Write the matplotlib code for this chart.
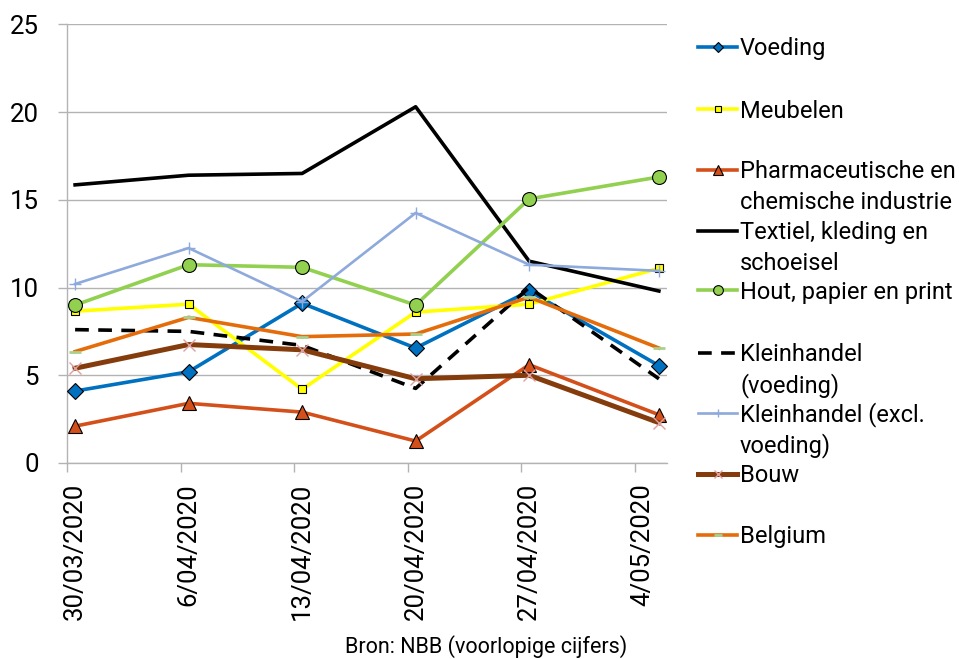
import matplotlib.pyplot as plt
from matplotlib.lines import Line2D
from matplotlib.transforms import ScaledTranslation
from matplotlib import rcParams

rcParams['font.family'] = ['Roboto', 'DejaVu Sans']

# meetmomenten (dagen na 30/03/2020) en labels
meetdagen = [0.5, 7.5, 14.5, 21.5, 28.5, 36.5]
tick_dagen = [0, 7, 14, 21, 28, 35]
tick_labels = ['30/03/2020', '6/04/2020', '13/04/2020', '20/04/2020', '27/04/2020', '4/05/2020']

voeding = [4.1, 5.2, 9.1, 6.55, 9.8, 5.55]
meubelen = [8.65, 9.05, 4.2, 8.6, 9.05, 11.1]
pharma = [2.1, 3.4, 2.9, 1.25, 5.6, 2.75]
textiel = [15.85, 16.4, 16.5, 20.3, 11.5, 9.8]
hout = [9.0, 11.3, 11.15, 9.0, 15.05, 16.3]
klein_voeding = [7.6, 7.5, 6.7, 4.25, 10.0, 4.8]
klein_excl = [10.2, 12.25, 9.2, 14.25, 11.3, 10.95]
bouw = [5.4, 6.75, 6.45, 4.8, 5.0, 2.3]
belgium = [6.35, 8.3, 7.2, 7.35, 9.45, 6.55]

series = [
    ('Voeding', voeding, dict(color='#0070C0', lw=2.6, marker='D', ms=8, mfc='#0070C0', mec='black', mew=0.8)),
    ('Meubelen', meubelen, dict(color='#FFFF00', lw=2.6, marker='s', ms=5.5, mfc='#FFFF00', mec='black', mew=0.8)),
    ('Pharmaceutische en\nchemische industrie', pharma, dict(color='#D4501A', lw=2.6, marker='^', ms=10, mfc='#D4501A', mec='black', mew=0.8)),
    ('Textiel, kleding en\nschoeisel', textiel, dict(color='black', lw=2.6)),
    ('Hout, papier en print', hout, dict(color='#92D050', lw=2.6, marker='o', ms=10, mfc='#92D050', mec='black', mew=0.8)),
    ('Kleinhandel\n(voeding)', klein_voeding, dict(color='black', lw=2.6, dashes=(3.8, 2.6))),
    ('Kleinhandel (excl.\nvoeding)', klein_excl, dict(color='#8EA9DB', lw=1.9, marker='+', ms=9, mec='#8EA9DB', mew=1)),
    ('Bouw', bouw, dict(color='#843C0C', lw=3.6, marker='x', ms=9, mec='#E0A0A0', mew=1)),
    ('Belgium', belgium, dict(color='#E46C0A', lw=2.6, marker='_', ms=9, mec='#A9D18E', mew=2)),
]

W, H = 959, 659
fig = plt.figure(figsize=(W / 100, H / 100), dpi=100)
ax = fig.add_axes([67 / W, 1 - 463 / H, 600 / W, (463 - 24.3) / H])

for naam, waarden, stijl in series:
    ax.plot(meetdagen, waarden, label=naam, zorder=3, **stijl)

grijs = '#B3B3B3'
ax.set_ylim(0, 25)
ax.set_yticks([0, 5, 10, 15, 20, 25])
ax.set_xlim(0, 37)
ax.set_xticks(tick_dagen)
ax.set_xticklabels(tick_labels, rotation=90, va='top', ha='center')
ax.yaxis.grid(True, color=grijs, lw=1)
ax.set_axisbelow(True)
for s in ['top', 'right']:
    ax.spines[s].set_visible(False)
for s in ['left', 'bottom']:
    ax.spines[s].set_color(grijs)
    ax.spines[s].set_linewidth(1)
ax.tick_params(axis='y', length=6.5, color=grijs, width=1, pad=14, labelsize=18.5)
ax.tick_params(axis='x', length=6.5, color=grijs, width=1, pad=8, labelsize=18.5)
for lbl in ax.get_xticklabels():
    lbl.set_transform(lbl.get_transform() + ScaledTranslation(8 / 100, 0, fig.dpi_scale_trans))


# legenda handmatig opgebouwd (Excel-stijl)
def fx(px):
    return px / W


def fy(py):
    return 1 - py / H


rij_y = [47, 109, 170, 231, 290, 353, 413, 474, 535]
for (naam, waarden, stijl), y in zip(series, rij_y):
    lijn = {k: v for k, v in stijl.items() if k in ('color', 'lw', 'dashes')}
    fig.add_artist(Line2D([fx(698), fx(737)], [fy(y), fy(y)], transform=fig.transFigure, **lijn))
    if 'marker' in stijl:
        mk = {k: v for k, v in stijl.items() if k in ('marker', 'mfc', 'mec', 'mew')}
        fig.add_artist(Line2D([fx(717.5)], [fy(y)], transform=fig.transFigure, ms=stijl['ms'] * 0.7, ls='none', **mk))
    for i, regel in enumerate(naam.split('\n')):
        fig.text(fx(740), fy(y + 8.5 + 30.5 * i), regel, va='baseline', ha='left', fontsize=17)

fig.text(fx(486), fy(647), 'Bron: NBB (voorlopige cijfers)', ha='center', va='center', fontsize=15.5)

plt.savefig('out.png', dpi=100)
